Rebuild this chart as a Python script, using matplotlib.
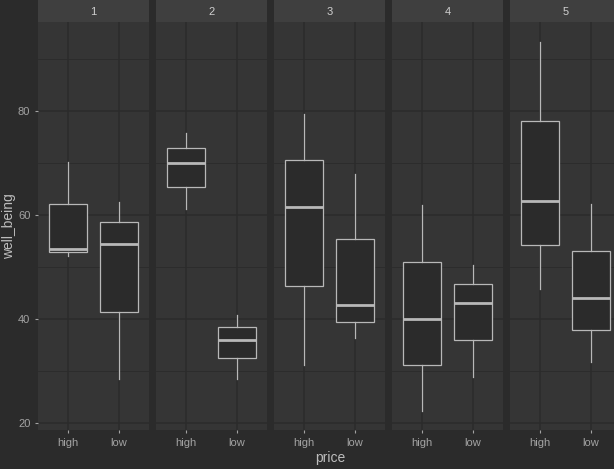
import numpy as np
import matplotlib.pyplot as plt

# facets and categories
facets = ['1', '2', '3', '4', '5']
prices = ['high', 'low']

# box stats: [whislo, q1, med, q3, whishi] per facet, per price
high_stats = [
    [52.1, 52.9, 53.4, 62.0, 70.1],
    [61.0, 65.4, 69.9, 72.8, 75.7],
    [31.1, 46.3, 61.5, 70.5, 79.4],
    [22.3, 31.1, 39.9, 50.9, 61.8],
    [45.7, 54.2, 62.7, 78.1, 93.3],
]
low_stats = [
    [28.4, 41.3, 54.3, 58.5, 62.5],
    [28.4, 32.4, 36.0, 38.4, 40.8],
    [36.2, 39.4, 42.7, 55.3, 67.8],
    [28.7, 35.9, 43.1, 46.7, 50.3],
    [31.7, 37.8, 43.9, 53.0, 62.1],
]

y_ticks = [20, 40, 60, 80]
y_minor = [30, 50, 70, 90]

W, H = 614, 469
bg = '#2b2b2b'
panel_bg = '#353535'
strip_bg = '#3f3f3f'
grid_col = '#2b2b2b'
line_col = '#b8b8b8'
text_col = '#a3a3a3'

plt.rcParams['font.family'] = ['Liberation Sans', 'DejaVu Sans']

fig = plt.figure(figsize=(W / 100, H / 100), dpi=100, facecolor=bg)

left = 38
gap = 7
pw = 111   # last panel runs past the right edge, as in the reference
top, bottom = 22, 430
strip_h = 22

def mk(s, lab):
    return dict(whislo=s[0], q1=s[1], med=s[2], q3=s[3], whishi=s[4], label=lab, fliers=[])

for i, f in enumerate(facets):
    x0 = left + i * (pw + gap)
    ax = fig.add_axes([x0 / W, 1 - bottom / H, pw / W, (bottom - top) / H])
    ax.set_facecolor(panel_bg)
    for s in ax.spines.values():
        s.set_visible(False)

    stats = [mk(high_stats[i], 'high'), mk(low_stats[i], 'low')]
    ax.bxp(stats, positions=[1, 2], widths=0.75, patch_artist=True, showcaps=False,
           boxprops=dict(facecolor=bg, edgecolor=line_col, linewidth=0.9),
           whiskerprops=dict(color=line_col, linewidth=0.9),
           medianprops=dict(color=line_col, linewidth=2.0, solid_capstyle='butt'),
           zorder=3)

    ax.set_xlim(0.4, 2.6)
    ax.set_ylim(18.6, 97.05)
    ax.set_yticks(y_ticks)
    ax.set_yticks(y_minor, minor=True)
    ax.set_xticks([1, 2])
    ax.set_xticklabels(prices)
    ax.grid(True, which='major', color=grid_col, linewidth=1.1, zorder=0)
    ax.grid(True, which='minor', axis='y', color=grid_col, linewidth=0.6, zorder=0)
    ax.set_axisbelow(True)
    ax.tick_params(axis='both', which='major', colors=text_col, labelsize=8,
                   length=2.5, width=0.8, pad=3)
    ax.tick_params(axis='y', which='minor', length=0)
    if i > 0:
        ax.tick_params(axis='y', which='major', left=False, labelleft=False)

    sax = fig.add_axes([x0 / W, 1 - top / H, pw / W, strip_h / H])
    sax.set_facecolor(strip_bg)
    sax.set_xticks([])
    sax.set_yticks([])
    for s in sax.spines.values():
        s.set_visible(False)
    sax.text(0.5, 0.45, f, ha='center', va='center', color='#cfcfcf', fontsize=8,
             transform=sax.transAxes)

fig.text(330 / W, 1 - 458 / H, 'price', ha='center', va='center',
         color='#bdbdbd', fontsize=10)
fig.text(9 / W, 1 - 226 / H, 'well_being', ha='center', va='center', rotation=90,
         color='#bdbdbd', fontsize=10)

fig.savefig('out.png', dpi=100, facecolor=bg)
